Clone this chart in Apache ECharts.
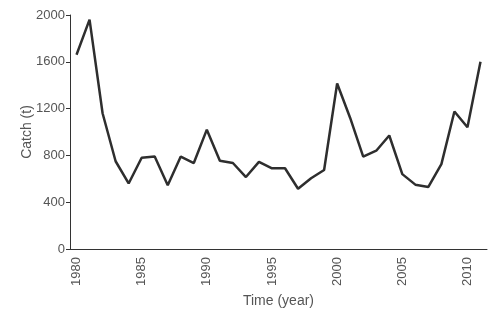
<!DOCTYPE html>
<html>
<head>
<meta charset="utf-8">
<script src="https://cdn.jsdelivr.net/npm/echarts@6/dist/echarts.min.js"></script>
<style>
  html, body { margin: 0; padding: 0; background: #fff; }
  #chart { width: 499px; height: 317px; }
</style>
</head>
<body>
<div id="chart"></div>
<script>
// catch per year
var years = [];
for (var y = 1980; y <= 2011; y++) years.push(String(y));
var catchValues = [1660, 1960, 1160, 750, 560, 780, 790, 545, 790, 735,
                   1020, 755, 735, 615, 745, 690, 690, 515, 605, 675,
                   1415, 1120, 790, 840, 970, 640, 550, 530, 725, 1175,
                   1040, 1600];
var yTicks = [0, 400, 800, 1200, 1600, 2000];

var textColor = '#555';
var axisColor = '#333';

var option = {
    animation: false,
    grid: { left: 70, right: 12, top: 15, bottom: 68 },
    xAxis: {
        type: 'category',
        data: years,
        boundaryGap: true,
        name: 'Time (year)',
        nameLocation: 'middle',
        nameGap: 45,
        nameMoveOverlap: false,
        nameTextStyle: { color: textColor, fontSize: 14, fontFamily: 'Liberation Sans' },
        axisLine: { lineStyle: { color: axisColor, width: 1 } },
        axisTick: { interval: 0, length: 5, lineStyle: { color: axisColor } },
        axisLabel: {
            rotate: 90,
            color: textColor,
            fontSize: 13,
            fontFamily: 'Liberation Sans',
            margin: 8,
            interval: function (i) { return i % 5 === 0; }
        }
    },
    yAxis: {
        type: 'value',
        min: yTicks[0],
        max: yTicks[yTicks.length - 1],
        interval: 400,
        name: 'Catch (t)',
        nameLocation: 'middle',
        nameGap: 36,
        nameMoveOverlap: false,
        nameTextStyle: { color: textColor, fontSize: 14, fontFamily: 'Liberation Sans' },
        splitLine: { show: false },
        axisLine: { show: true, lineStyle: { color: axisColor, width: 1 } },
        axisTick: { show: true, length: 4, lineStyle: { color: axisColor } },
        axisLabel: {
            color: textColor, fontSize: 13, fontFamily: 'Liberation Sans', margin: 5,
            formatter: function (v) { return String(v); }
        }
    },
    series: [{
        type: 'line',
        data: catchValues,
        symbol: 'none',
        lineStyle: { color: '#2e2e2e', width: 2.5 }
    }]
};

var chart = echarts.init(document.getElementById('chart'));
chart.setOption(option);
</script>
</body>
</html>
